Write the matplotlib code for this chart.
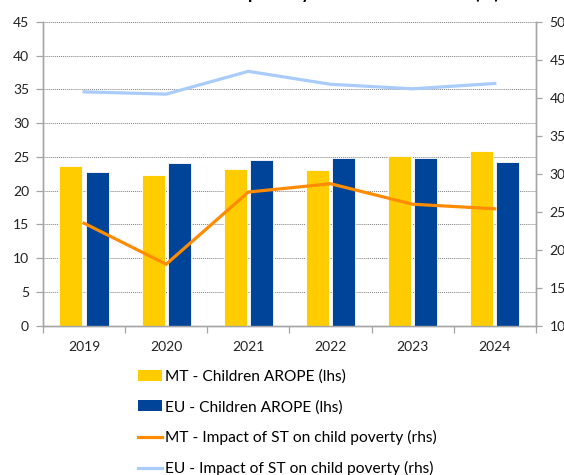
import matplotlib
matplotlib.use("Agg")
import matplotlib.pyplot as plt
import numpy as np
from matplotlib.patches import Patch
from matplotlib.lines import Line2D

plt.rcParams["font.family"] = ["Lato", "DejaVu Sans"]

years = ["2019", "2020", "2021", "2022", "2023", "2024"]
mt_arope = [23.7, 22.3, 23.2, 23.1, 25.2, 25.9]
eu_arope = [22.8, 24.1, 24.5, 24.8, 24.9, 24.2]
mt_st_impact = [23.5, 18.1, 27.6, 28.7, 26.0, 25.4]
eu_st_impact = [40.8, 40.5, 43.5, 41.8, 41.2, 41.9]

yellow = "#FFCC00"
blue = "#00449A"
orange = "#FF8C00"
light_blue = "#A9CCFA"
spine_grey = "#A6A6A6"

fig = plt.figure(figsize=(5.64, 4.75), dpi=100)
ax = fig.add_axes([0.0762, 0.3143, 0.8738, 0.6394])
ax2 = ax.twinx()

x = np.arange(len(years))
w = 0.28
ax.bar(x - 0.16, mt_arope, w, color=yellow, edgecolor="white", linewidth=0.6, zorder=3)
ax.bar(x + 0.16, eu_arope, w, color=blue, edgecolor="white", linewidth=0.6, zorder=3)

ax2.plot(x, mt_st_impact, color=orange, lw=2.3, solid_joinstyle="miter")
ax2.plot(x, eu_st_impact, color=light_blue, lw=2.3, solid_joinstyle="miter")

ax.set_xlim(-0.5, len(years) - 0.5)
ax.set_ylim(0, 45)
ax.set_yticks(range(0, 46, 5))
ax2.set_ylim(10, 50)
ax2.set_yticks(range(10, 51, 5))

ax.yaxis.grid(True, linestyle=(0, (1, 1)), color="#7F7F7F", linewidth=0.7, zorder=0)
ax.set_axisbelow(True)

ax.set_xticks(x)
ax.set_xticklabels(years)
ax.set_xticks(np.arange(-0.5, len(years)), minor=True)
ax.tick_params(axis="x", which="major", length=0, pad=11, labelsize=10, colors="#222222")
ax.tick_params(axis="x", which="minor", length=5, width=0.9, color=spine_grey)
ax.tick_params(axis="y", length=5, width=0.9, color=spine_grey, labelsize=10,
               labelcolor="#222222", pad=5)
ax2.tick_params(axis="y", length=4, width=0.9, color=spine_grey, labelsize=10,
                labelcolor="#222222", pad=6)

for a in (ax, ax2):
    a.spines["top"].set_visible(False)
    for s in ("left", "right", "bottom"):
        a.spines[s].set_color(spine_grey)
        a.spines[s].set_linewidth(1.0)

ax2.set_zorder(ax.get_zorder() + 1)
ax2.patch.set_visible(False)

fig.text(0.885, 1.003, "Child poverty and social transfers (%)", ha="right",
         va="baseline", fontsize=13, fontweight="bold")

handles = [
    Patch(facecolor=yellow, edgecolor="none"),
    Patch(facecolor=blue, edgecolor="none"),
    Line2D([], [], color=orange, lw=2.3),
    Line2D([], [], color=light_blue, lw=2.3),
]
labels = [
    "MT - Children AROPE (lhs)",
    "EU - Children AROPE (lhs)",
    "MT - Impact of ST on child poverty (rhs)",
    "EU - Impact of ST on child poverty (rhs)",
]
fig.legend(handles, labels, loc="upper left", bbox_to_anchor=(0.2447, 0.222),
           frameon=False, fontsize=11.2, handlelength=1.55, handleheight=0.7,
           handletextpad=0.2, labelspacing=1.03, borderpad=0, borderaxespad=0)

fig.savefig("out.png", dpi=100)
